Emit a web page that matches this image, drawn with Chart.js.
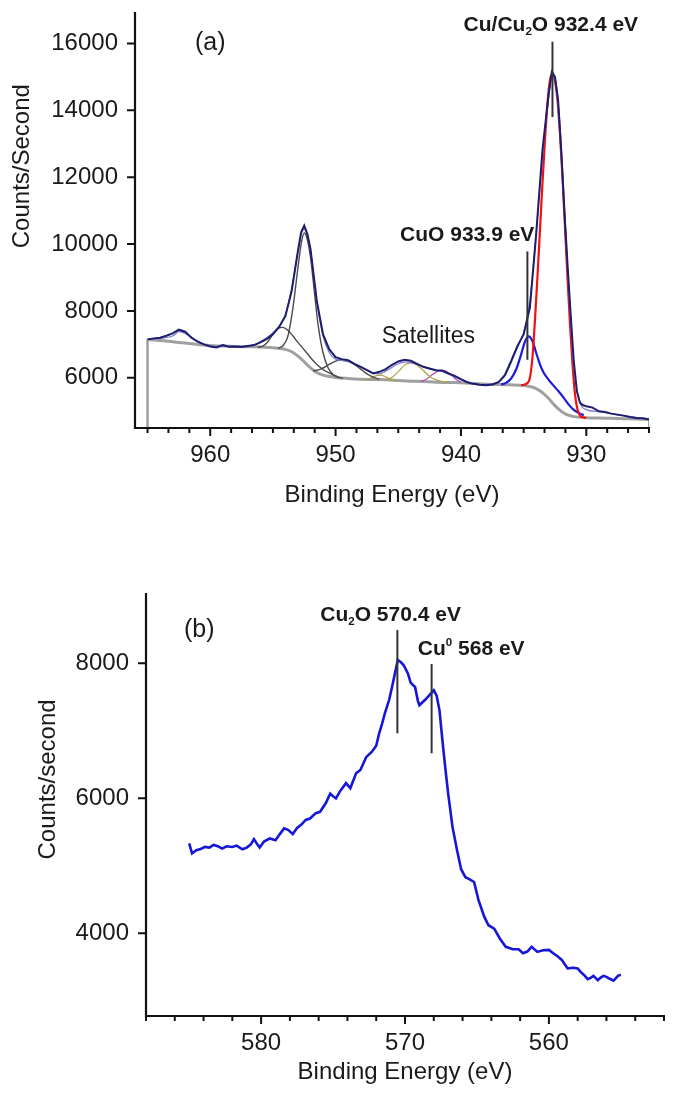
<!DOCTYPE html>
<html>
<head>
<meta charset="utf-8">
<script src="https://cdn.jsdelivr.net/npm/chart.js@4.4.1/dist/chart.umd.min.js"></script>
<style>
  html, body { margin: 0; padding: 0; background: #fff; }
  body { width: 685px; height: 1102px; position: relative; overflow: hidden; }
  canvas { position: absolute; left: 0; }
  #cuChart { top: 0; }
  #augerChart { top: 525px; }
</style>
</head>
<body>
<canvas id="cuChart" width="685" height="525"></canvas>
<canvas id="augerChart" width="685" height="577"></canvas>
<script>
const FONT = "'Liberation Sans', Arial, Helvetica, sans-serif";

// ---- (a) Cu 2p region ----
const cuRawE = [965, 964.5, 964, 963.5, 963, 962.5, 962, 961.5, 961, 960.5, 960, 959.5, 959, 958.5, 958, 957.5, 957, 956.5, 956, 955.5,
  955, 954.5, 954, 953.5, 953, 952.75, 952.5, 952.25, 952, 951.5, 951, 950.5, 950, 949.5, 949, 948.5, 948, 947.5, 947, 946.5,
  946, 945.5, 945, 944.5, 944, 943.5, 943, 942.5, 942, 941.5, 941, 940.5, 940, 939.5, 939, 938.5, 938, 937.5, 937, 936.5,
  936, 935.5, 935, 934.5, 934, 933.5, 933, 932.75, 932.5, 932.25, 932, 931.75, 931.5, 931.25, 931, 930.75, 930.5, 930.25, 930, 929.5,
  929, 928.5, 928, 927.5, 927, 926.5, 926, 925.5, 925];
const cuRawCps = [7150, 7180, 7200, 7260, 7330, 7440, 7380, 7200, 7080, 7000, 6940, 6910, 6980, 6930, 6940, 6920, 6950, 6980, 7060, 7160,
  7300, 7520, 7850, 8600, 9800, 10350, 10550, 10300, 9850, 8300, 7300, 6850, 6620, 6560, 6530, 6420, 6330, 6230, 6130, 6180,
  6260, 6390, 6490, 6540, 6510, 6420, 6330, 6280, 6230, 6210, 6130, 6060, 5960, 5870, 5820, 5790, 5780, 5800, 5870, 6080,
  6500, 6950, 7300, 8100, 10300, 12800, 14500, 15150, 15000, 14300, 12800, 11000, 9400, 7900, 6500, 5600, 5250, 5180, 5150, 5110,
  5000, 4980, 4930, 4900, 4870, 4830, 4800, 4790, 4750];

const cuEnvE = [965, 963, 962.5, 962, 961, 960, 958, 956.5, 955.5, 955, 954.5, 954, 953.5, 953, 952.7, 952.5, 952.2, 952, 951.5, 951,
  950.5, 950, 949.5, 949, 948, 947, 946.5, 946, 945, 944.3, 943.5, 942.5, 941.5, 940.5, 939.5, 938.5, 937.5, 937, 936.5, 936,
  935.5, 935, 934.5, 934, 933.5, 933, 932.7, 932.4, 932, 931.5, 931, 930.5, 930, 929, 927, 925];
const cuEnvCps = [7150, 7250, 7380, 7330, 7100, 6960, 6940, 6990, 7200, 7350, 7550, 7900, 8700, 9800, 10350, 10450, 10200, 9800, 8300, 7250,
  6750, 6560, 6520, 6480, 6330, 6150, 6120, 6200, 6420, 6480, 6400, 6260, 6200, 6030, 5870, 5800, 5820, 5880, 6060, 6450,
  6900, 7350, 8300, 10300, 12600, 14400, 15050, 14700, 12700, 9300, 6300, 5250, 5050, 4990, 4860, 4770];

const shirleyE = [965, 964, 963, 962, 961, 960, 959, 958, 957, 956, 955, 954.5, 954, 953.5, 953, 952.5, 952, 951.5, 951, 950.5,
  950, 949, 948, 947, 946, 945, 944, 943, 942, 941, 940, 939, 938, 937, 936, 935, 934.5, 934, 933.5, 933,
  932.5, 932, 931.5, 931, 930, 929, 928, 927, 926, 925];
const shirleyCps = [7150, 7120, 7080, 7040, 7000, 6970, 6950, 6940, 6930, 6920, 6900, 6880, 6850, 6780, 6650, 6480, 6300, 6160, 6080, 6040,
  6010, 5980, 5960, 5950, 5940, 5920, 5900, 5890, 5870, 5860, 5850, 5830, 5810, 5800, 5790, 5770, 5740, 5680, 5560, 5380,
  5170, 5000, 4890, 4840, 4810, 4800, 4790, 4780, 4770, 4760];

const cuPeakE = [935.2, 934.8, 934.5, 934.3, 934.1, 933.9, 933.7, 933.5, 933.3, 933.1, 932.9, 932.7, 932.5, 932.3, 932.1, 931.9, 931.7, 931.5, 931.3, 931.1,
  930.9, 930.7, 930.5, 930.3, 930];
const cuPeakCps = [5780, 5820, 6000, 6600, 7700, 9000, 10400, 11800, 13100, 14200, 14900, 15100, 14900, 14300, 13300, 12000, 10500, 9000, 7600, 6400,
  5500, 5050, 4870, 4820, 4800];

const cuoPeakE = [936.8, 936.4, 936, 935.6, 935.2, 934.9, 934.6, 934.3, 934, 933.7, 933.4, 933, 932.6, 932.2, 931.8, 931.4, 931, 930.6, 930.2];
const cuoPeakCps = [5800, 5850, 5980, 6250, 6700, 7080, 7240, 7100, 6750, 6400, 6150, 5940, 5760, 5590, 5400, 5200, 5040, 4950, 4880];

const mainSatE = [954.6, 954.2, 953.8, 953.4, 953, 952.7, 952.5, 952.3, 952, 951.7, 951.4, 951, 950.6, 950.2, 949.8, 949.4];
const mainSatCps = [6890, 6960, 7250, 8100, 9300, 10100, 10330, 10200, 9600, 8600, 7600, 6750, 6300, 6100, 6020, 5990];

const shakeE = [956.2, 955.8, 955.4, 955, 954.6, 954.2, 953.8, 953.4, 953, 952.6, 952.2, 951.8, 951.4, 951, 950.6, 950.2, 949.8];
const shakeCps = [6915, 6950, 7080, 7300, 7480, 7510, 7420, 7250, 7060, 6880, 6700, 6520, 6370, 6250, 6160, 6090, 6030];

const shoulderE = [951.8, 951.2, 950.6, 950, 949.5, 949, 948.5, 948, 947.5, 947, 946.5];
const shoulderCps = [6200, 6260, 6380, 6500, 6540, 6500, 6400, 6260, 6120, 6020, 5960];

const satAE = [947.6, 947.2, 946.8, 946.4, 946, 945.6, 945.2];
const satACps = [5955, 5990, 6060, 6080, 6030, 5960, 5925];
const satBE = [946, 945.5, 945, 944.5, 944, 943.5, 943, 942.5, 942, 941.5, 941];
const satBCps = [5940, 6020, 6180, 6380, 6450, 6380, 6220, 6040, 5940, 5890, 5865];
const satCE = [943.2, 942.8, 942.4, 942, 941.6, 941.2, 940.8, 940.4, 940];
const satCCps = [5890, 5950, 6060, 6170, 6230, 6200, 6090, 5960, 5870];

const cuXMajor = [960, 950, 940, 930];
const cuYTicks = [6000, 8000, 10000, 12000, 14000, 16000];

// ---- (b) Cu LMM Auger region ----
const augerE = [585, 584.8, 584.5, 584.2, 583.9, 583.6, 583.3, 583, 582.7, 582.4, 582, 581.7, 581.3, 581, 580.7, 580.5, 580.3, 580.1, 579.8, 579.4,
  579, 578.7, 578.4, 578.1, 577.8, 577.5, 577.2, 576.9, 576.6, 576.2, 575.9, 575.5, 575.2, 575, 574.8, 574.5, 574.1, 573.8, 573.4, 573.1,
  572.7, 572.3, 572, 571.8, 571.6, 571.4, 571.1, 570.9, 570.7, 570.5, 570.3, 570.1, 569.8, 569.6, 569.3, 569.1, 569, 568.8, 568.6, 568.3,
  568, 567.8, 567.6, 567.4, 567.2, 567, 566.7, 566.4, 566.1, 565.8, 565.5, 565.2, 564.9, 564.5, 564.2, 563.8, 563.4, 563, 562.5, 562.1,
  561.8, 561.5, 561.2, 560.8, 560.4, 560, 559.7, 559.4, 559.1, 558.7, 558.3, 558, 557.8, 557.5, 557.3, 557.1, 556.9, 556.6, 556.4, 556.2,
  556, 555.8, 555.5, 555.2, 555];
const augerCps = [5333, 5185, 5230, 5250, 5280, 5270, 5310, 5290, 5255, 5290, 5280, 5300, 5245, 5270, 5320, 5395, 5330, 5270, 5360, 5405,
  5380, 5470, 5555, 5530, 5470, 5560, 5610, 5680, 5700, 5780, 5800, 5930, 6070, 6030, 6000, 6110, 6225, 6150, 6370, 6420,
  6610, 6690, 6780, 6960, 7100, 7260, 7460, 7650, 7850, 8050, 8020, 7975, 7850, 7710, 7650, 7440, 7380, 7420, 7460, 7530,
  7600, 7520, 7300, 6860, 6450, 6070, 5580, 5250, 4950, 4830, 4800, 4760, 4500, 4250, 4120, 4070, 3920, 3800, 3765, 3765,
  3705, 3730, 3800, 3725, 3750, 3755, 3705, 3660, 3605, 3480, 3490, 3480, 3430, 3370, 3320, 3340, 3370, 3305, 3345, 3370,
  3355, 3330, 3300, 3370, 3385];

const augerXMajor = [580, 570, 560];
const augerYTicks = [4000, 6000, 8000];

const pts = (xs, ys) => xs.map((x, i) => ({ x, y: ys[i] }));

function line(data, color, width, smooth) {
  return {
    data, borderColor: color, borderWidth: width, pointRadius: 0, fill: false,
    tension: smooth ? 0.4 : 0, cubicInterpolationMode: smooth ? 'monotone' : 'default'
  };
}

// draws axis lines, tick marks, y title and the peak annotations
const xpsDecor = {
  id: 'xpsDecor',
  afterDatasetsDraw(chart, args, opts) {
    const { ctx, chartArea: a, scales: { x, y } } = chart;
    ctx.save();
    ctx.strokeStyle = '#111';
    ctx.lineWidth = 2.2;
    ctx.beginPath();
    ctx.moveTo(a.left, a.top);
    ctx.lineTo(a.left, a.bottom);
    ctx.lineTo(a.right + 1, a.bottom);
    ctx.stroke();

    ctx.lineWidth = 2;
    ctx.beginPath();
    x.ticks.forEach(t => {
      const px = x.getPixelForValue(t.value);
      ctx.moveTo(px, a.bottom);
      ctx.lineTo(px, a.bottom + (t.label ? 8 : 5));
    });
    y.ticks.forEach(t => {
      const py = y.getPixelForValue(t.value);
      ctx.moveTo(a.left, py);
      ctx.lineTo(a.left - 8, py);
    });
    ctx.stroke();

    // marker lines
    ctx.strokeStyle = '#333';
    ctx.lineWidth = 2;
    opts.marks.forEach(m => {
      const px = x.getPixelForValue(m.x);
      ctx.beginPath();
      ctx.moveTo(px, y.getPixelForValue(m.y0));
      ctx.lineTo(px, y.getPixelForValue(m.y1));
      ctx.stroke();
    });

    // labels made of runs so sub/superscripts stay real text
    ctx.fillStyle = '#1a1a1a';
    ctx.textBaseline = 'middle';
    ctx.textAlign = 'left';
    opts.labels.forEach(l => {
      const runs = l.runs.map(r => {
        const size = r.s ? l.size * 0.55 : l.size;
        const f = (l.bold ? 'bold ' : '') + size + 'px ' + FONT;
        ctx.font = f;
        return { t: r.t, f, w: ctx.measureText(r.t).width, dy: r.s === 'sub' ? l.size * 0.32 : r.s === 'sup' ? -l.size * 0.32 : 0 };
      });
      const total = runs.reduce((s, r) => s + r.w, 0);
      let cx = x.getPixelForValue(l.x) - total / 2;
      const cy = y.getPixelForValue(l.y);
      runs.forEach(r => {
        ctx.font = r.f;
        ctx.fillText(r.t, cx, cy + r.dy);
        cx += r.w;
      });
    });

    // y axis title
    ctx.font = '24px ' + FONT;
    ctx.textAlign = 'center';
    ctx.translate(opts.yTitle.px, y.getPixelForValue(opts.yTitle.at));
    ctx.rotate(-Math.PI / 2);
    ctx.fillText(opts.yTitle.text, 0, 0);
    ctx.restore();
  }
};

function makeChart(id, cfg) {
  const tickFont = { family: FONT, size: 24 };
  return new Chart(document.getElementById(id), {
    type: 'line',
    data: { datasets: cfg.datasets },
    plugins: [xpsDecor],
    options: {
      responsive: false, animation: false, events: [],
      layout: { padding: cfg.padding },
      plugins: { legend: { display: false }, tooltip: { enabled: false }, xpsDecor: cfg.decor },
      scales: {
        x: {
          type: 'linear', reverse: true, min: cfg.xMin, max: cfg.xMax,
          grid: { display: false, drawTicks: false }, border: { display: false },
          afterBuildTicks: s => { s.ticks = cfg.xTicks.map(v => ({ value: v })); },
          afterFit: s => { s.height = cfg.xHeight; s.paddingLeft = 0; s.paddingRight = 0; },
          ticks: {
            autoSkip: false, maxRotation: 0, padding: 13, color: '#1a1a1a', font: tickFont,
            callback: v => cfg.xMajor.some(m => Math.abs(m - v) < 0.01) ? String(Math.round(v)) : ''
          },
          title: {
            display: true, text: 'Binding Energy (eV)', color: '#1a1a1a',
            font: { family: FONT, size: 24 }, padding: { top: 0, bottom: cfg.titlePad }
          }
        },
        y: {
          min: cfg.yMin, max: cfg.yMax,
          grid: { display: false, drawTicks: false }, border: { display: false },
          afterBuildTicks: s => { s.ticks = cfg.yTicks.map(v => ({ value: v })); },
          afterFit: s => { s.width = cfg.yWidth; s.paddingTop = 0; s.paddingBottom = 0; },
          ticks: { padding: 17, color: '#1a1a1a', font: tickFont, callback: v => String(v) }
        }
      }
    }
  });
}

const cuMinorTicks = [];
for (let i = 0; i <= 24; i++) cuMinorTicks.push(925 + i * 5 / 3);
const augerMinorTicks = [];
for (let v = 552; v <= 588; v += 2) augerMinorTicks.push(v);

const CU_YMIN = 4500;
const AUGER_YMIN = 2775;

makeChart('cuChart', {
  padding: { left: 0, right: 36, top: 12, bottom: 0 },
  xMin: 925, xMax: 966, yMin: CU_YMIN, yMax: 16940,
  xTicks: cuMinorTicks, xMajor: cuXMajor, yTicks: cuYTicks,
  xHeight: 97, yWidth: 135, titlePad: 15,
  datasets: [
    line(pts(cuRawE, cuRawCps), '#1d1d70', 2, false),
    line(pts(cuEnvE, cuEnvCps), '#7a7ac4', 1.2, true),
    line(pts(cuPeakE, cuPeakCps), '#f01010', 2.2, true),
    line(pts(cuoPeakE, cuoPeakCps), '#1a1ad8', 2.2, true),
    line(pts(mainSatE, mainSatCps), '#4a4a4a', 1.4, true),
    line(pts(shakeE, shakeCps), '#4a4a4a', 1.4, true),
    line(pts(shoulderE, shoulderCps), '#4a4a4a', 1.4, true),
    line(pts(satAE, satACps), '#b0a040', 1.2, true),
    line(pts(satBE, satBCps), '#b0a040', 1.2, true),
    line(pts(satCE, satCCps), '#b048b8', 1.2, true),
    line(pts(shirleyE, shirleyCps), '#a0a0a0', 3, true),
    line([{ x: shirleyE[0], y: CU_YMIN }, { x: shirleyE[0], y: shirleyCps[0] }], '#a0a0a0', 2.5, false),
    line([{ x: shirleyE[shirleyE.length - 1], y: shirleyCps[shirleyCps.length - 1] }, { x: shirleyE[shirleyE.length - 1], y: CU_YMIN }], '#a0a0a0', 2, false)
  ],
  decor: {
    yTitle: { text: 'Counts/Second', px: 22, at: 12330 },
    marks: [{ x: 932.7, y0: 13800, y1: 16050 }, { x: 934.7, y0: 6540, y1: 9780 }],
    labels: [
      { x: 960, y: 16000, size: 25, runs: [{ t: '(a)' }] },
      { x: 932.83, y: 16560, size: 21, bold: true, runs: [{ t: 'Cu/Cu' }, { t: '2', s: 'sub' }, { t: 'O 932.4 eV' }] },
      { x: 939.5, y: 10280, size: 21, bold: true, runs: [{ t: 'CuO 933.9 eV' }] },
      { x: 942.6, y: 7240, size: 23, runs: [{ t: 'Satellites' }] }
    ]
  }
});

makeChart('augerChart', {
  padding: { left: 0, right: 21, top: 68, bottom: 0 },
  xMin: 552, xMax: 588, yMin: AUGER_YMIN, yMax: 9042,
  xTicks: augerMinorTicks, xMajor: augerXMajor, yTicks: augerYTicks,
  xHeight: 86, yWidth: 146, titlePad: 15,
  datasets: [
    line(pts(augerE, augerCps), '#1616d8', 2.6, false)
  ],
  decor: {
    yTitle: { text: 'Counts/second', px: 48, at: 6280 },
    marks: [{ x: 570.53, y0: 6963, y1: 8493 }, { x: 568.15, y0: 6667, y1: 7990 }],
    labels: [
      { x: 584.3, y: 8493, size: 25, runs: [{ t: '(b)' }] },
      { x: 571.0, y: 8716, size: 21, bold: true, runs: [{ t: 'Cu' }, { t: '2', s: 'sub' }, { t: 'O 570.4 eV' }] },
      { x: 565.4, y: 8207, size: 21, bold: true, runs: [{ t: 'Cu' }, { t: '0', s: 'sup' }, { t: ' 568 eV' }] }
    ]
  }
});
</script>
</body>
</html>
